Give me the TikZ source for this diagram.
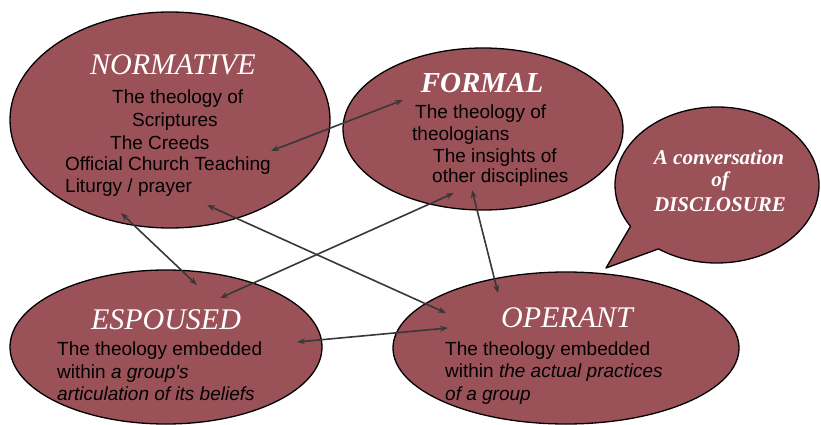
\documentclass[tikz,border=0pt]{standalone}
\usepackage{fontspec}
\setmainfont{Liberation Serif}
\newfontfamily\bodyfont{Liberation Sans}
\usetikzlibrary{shapes.geometric,arrows.meta,calc}
\definecolor{maroon}{HTML}{9B5158}
\definecolor{arrowgray}{HTML}{383838}
\tikzset{
  oval/.style={ellipse, draw=black, line width=1.3pt, fill=maroon, inner sep=0pt},
  ttl/.style={inner sep=0pt, text=white, font=\fontsize{30}{32}\selectfont\itshape},
  bodyline/.style={inner sep=0pt, anchor=base west, text=black, font=\bodyfont\fontsize{19}{22}\selectfont},
  bubtxt/.style={inner sep=0pt, anchor=base, text=white, font=\fontsize{21}{23}\selectfont\bfseries\itshape},
  link/.style={draw=arrowgray, line width=1.6pt, {Stealth[length=8pt,width=6pt]}-{Stealth[length=8pt,width=6pt]}},
}
\begin{document}
\begin{tikzpicture}[x=1pt,y=1pt]
\useasboundingbox (0,0) rectangle (821,-425);
% ellipses
\node[oval, minimum width=320pt, minimum height=216pt] (norm) at (170,-120) {};
\node[oval, minimum width=280pt, minimum height=162pt] (form) at (483,-129) {};
\node[oval, minimum width=312pt, minimum height=154pt] (esp) at (166,-347) {};
\node[oval, minimum width=346pt, minimum height=152pt] (oper) at (566,-348) {};
% speech bubble
\coordinate (bc) at (717,-185);
\coordinate (tip) at (606,-268);
\draw[line width=1.3pt, fill=maroon, line join=round] (tip) -- ($(bc)+(235:102 and 78)$)
  arc[start angle=235, end angle=572, x radius=102pt, y radius=78pt] -- cycle;
% titles
\node[ttl] (tnorm) at (173,-65) {NORMATIVE};
\node[ttl, font=\fontsize{29}{31}\selectfont\bfseries\itshape] (tform) at (482,-83) {FORMAL};
\node[ttl] (tesp) at (166,-320) {ESPOUSED};
\node[ttl] (toper) at (567,-318) {OPERANT};
% normative text
\node[bodyline] (n1) at (112,-104) {The theology of};
\node[bodyline] (n2) at (132,-127) {Scriptures};
\node[bodyline] (n3) at (110,-149) {The Creeds};
\node[bodyline] (n4) at (65,-170) {Official Church Teaching};
\node[bodyline] (n5) at (65,-192) {Liturgy / prayer};
% formal text
\node[bodyline] (f1) at (415,-119) {The theology of};
\node[bodyline] (f2) at (412,-140) {theologians};
\node[bodyline] (f3) at (433,-162) {The insights of};
\node[bodyline] (f4) at (432,-182) {other disciplines};
% espoused text
\node[bodyline] (e1) at (57,-355) {The theology embedded};
\node[bodyline] (e2) at (57,-378) {within \textit{a group's}};
\node[bodyline] (e3) at (57,-400) {\textit{articulation of its beliefs}};
% operant text
\node[bodyline] (o1) at (445,-355) {The theology embedded};
\node[bodyline] (o2) at (445,-377) {within \textit{the actual practices}};
\node[bodyline] (o3) at (445,-400) {\textit{of a group}};
% bubble text
\node[bubtxt] (b1) at (719,-164) {A conversation};
\node[bubtxt] (b2) at (720,-186) {of};
\node[bubtxt] (b3) at (720,-211) {DISCLOSURE};
% arrow end points
\coordinate (nf1) at (271,-151);
\coordinate (nf2) at (403,-100);
\coordinate (ne1) at (121,-213);
\coordinate (ne2) at (197,-285);
\coordinate (no1) at (207,-205);
\coordinate (no2) at (446,-313);
\coordinate (fe1) at (454,-193);
\coordinate (fe2) at (220,-298);
\coordinate (fo1) at (472,-190);
\coordinate (fo2) at (498,-293);
\coordinate (eo1) at (297,-342);
\coordinate (eo2) at (448,-328);
\draw[link] (nf1) -- (nf2);
\draw[link] (ne1) -- (ne2);
\draw[link] (no1) -- (no2);
\draw[link] (fe1) -- (fe2);
\draw[link] (fo1) -- (fo2);
\draw[link] (eo1) -- (eo2);
\end{tikzpicture}
\end{document}
